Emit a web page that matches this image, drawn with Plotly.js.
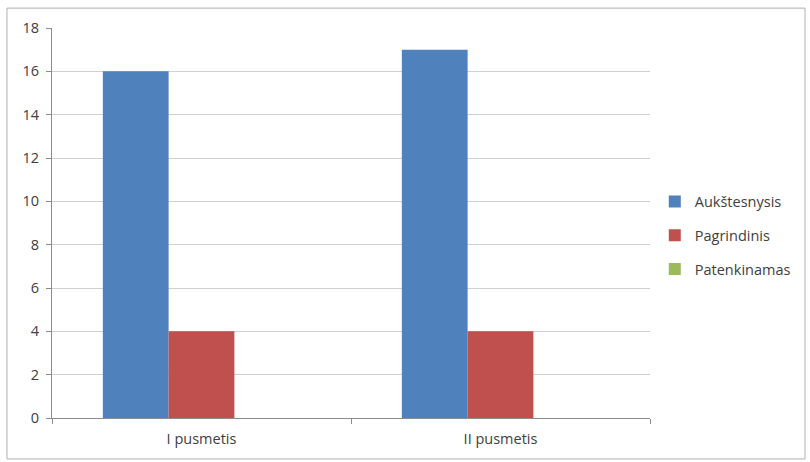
<!DOCTYPE html>
<html>
<head>
<meta charset="utf-8">
<script src="https://cdn.plot.ly/plotly-3.0.1.min.js"></script>
<style>
html,body{margin:0;padding:0;background:#fff;}
#chart{width:810px;height:462px;}
</style>
</head>
<body>
<div id="chart"></div>
<script>
var categories = ["I pusmetis", "II pusmetis"];
var seriesNames = ["Aukštesnysis", "Pagrindinis", "Patenkinamas"];
var aukstesnysis = [16, 17];
var pagrindinis = [4, 4];
var patenkinamas = [0, 0];
var yTicks = [0, 2, 4, 6, 8, 10, 12, 14, 16, 18];

var colors = ["#4F81BD", "#C0504D", "#9BBB59"];
var values = [aukstesnysis, pagrindinis, patenkinamas];

var traces = values.map(function (v, i) {
  return {
    type: "bar",
    name: seriesNames[i],
    legendgroup: "g" + i,
    x: categories,
    y: v,
    marker: { color: colors[i] },
    hoverinfo: "none"
  };
});

var fam = "Open Sans, Noto Sans, sans-serif";

var layout = {
  width: 810,
  height: 462,
  margin: { l: 52, r: 160, t: 28, b: 44, autoexpand: false },
  paper_bgcolor: "#ffffff",
  plot_bgcolor: "#ffffff",
  barmode: "group",
  bargap: 0.34,
  bargroupgap: 0,
  font: { family: fam, size: 14, color: "#404040" },
  showlegend: true,
  legend: {
    x: 1.008, y: 0.468, xanchor: "left", yanchor: "middle",
    font: { family: fam, size: 14.5, color: "#404040" },
    tracegroupgap: 12, itemwidth: 30
  },
  xaxis: {
    type: "category",
    showline: true, linecolor: "#8c8c8c", linewidth: 1,
    ticks: "outside", tickson: "boundaries", ticklen: 5, tickcolor: "#8c8c8c",
    showgrid: false, zeroline: false,
    ticklabelstandoff: 8,
    tickfont: { family: fam, size: 14.5, color: "#404040" }
  },
  yaxis: {
    range: [0, 18],
    tickvals: yTicks,
    ticktext: yTicks.map(String),
    showline: true, linecolor: "#8c8c8c", linewidth: 1,
    ticks: "outside", ticklen: 5, tickcolor: "#8c8c8c",
    showgrid: true, gridcolor: "#d0d0d0", gridwidth: 1,
    zeroline: false,
    ticklabelstandoff: 4,
    tickfont: { family: fam, size: 14.5, color: "#404040" }
  },
  shapes: [{
    type: "rect", xref: "paper", yref: "paper",
    x0: -0.0753, x1: 1.2592, y0: -0.105, y1: 1.051,
    line: { color: "#b0b0b0", width: 1 }, fillcolor: "rgba(0,0,0,0)", layer: "below"
  }]
};

Plotly.newPlot("chart", traces, layout, { staticPlot: true });
</script>
</body>
</html>
